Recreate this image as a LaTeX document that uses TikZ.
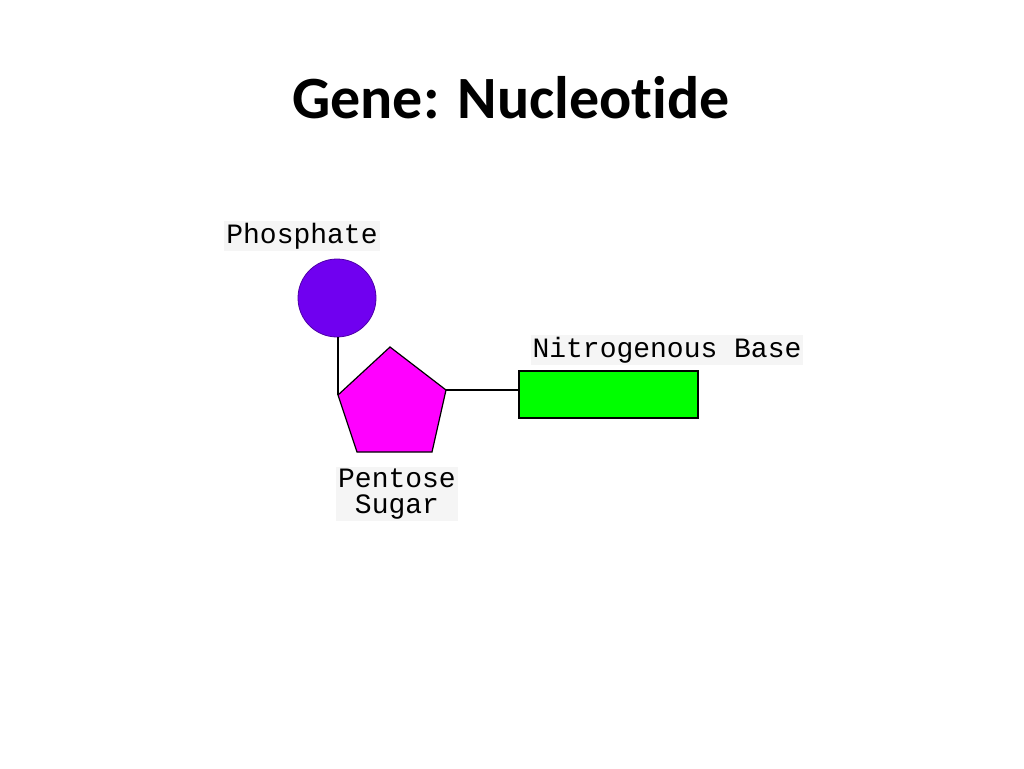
\documentclass[tikz,border=0pt]{standalone}
\usepackage{fontspec}
\setmainfont[Ligatures=NoCommon]{Carlito}
\newfontfamily\monof{Liberation Mono}
\definecolor{phos}{HTML}{7000F0}
\definecolor{sug}{HTML}{FF00FF}
\definecolor{base}{HTML}{00FF00}
\begin{document}
\begin{tikzpicture}[x=1pt,y=-1pt,
 lbl/.style={font=\monof\fontsize{28}{28}\selectfont,fill=gray!8,inner sep=2pt,align=center},
 conn/.style={draw=black,line width=1.2pt}]
\useasboundingbox (0,0) rectangle (1024,768);
\node[font=\bfseries\fontsize{60}{64}\selectfont] (title) at (511,98) {Gene: Nucleotide};
\node[circle,fill=phos,draw=phos!70!black,line width=0.8pt,minimum size=78pt,inner sep=0] (phos) at (337,298) {};
\coordinate (pl) at (338,395);
\coordinate (pt) at (390,347);
\coordinate (pr) at (446,390);
\coordinate (pbr) at (432,452);
\coordinate (pbl) at (357,452);
\draw[conn] (phos.south -| pl) -- (pl);
\fill[sug,draw=black,line width=1.2pt] (pl) -- (pt) -- (pr) -- (pbr) -- (pbl) -- cycle;
\node[draw=black,line width=1.2pt,fill=base,minimum width=179pt,minimum height=47pt,inner sep=0] (base) at (608.5,394.5) {};
\draw[conn] (pr) -- (pr -| base.west);
\node[lbl] (lp) at (302,236) {Phosphate};
\node[lbl] (lb) at (667,350) {Nitrogenous Base};
\node[lbl,font=\monof\fontsize{28}{26}\selectfont] (ls) at (397,494) {Pentose\\Sugar};
\end{tikzpicture}
\end{document}
